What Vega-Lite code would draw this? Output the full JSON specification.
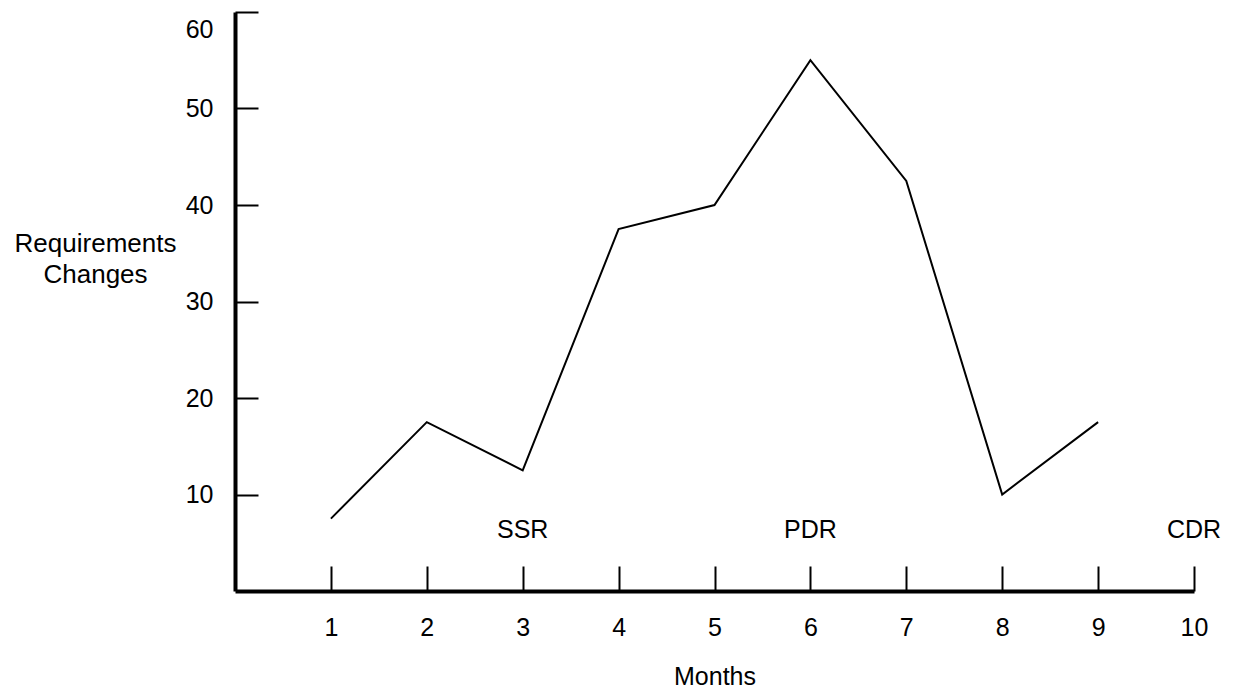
{
  "$schema": "https://vega.github.io/schema/vega-lite/v6.json",
  "width": 959,
  "height": 579,
  "autosize": {"type": "none"},
  "padding": {"left": 235, "top": 12, "right": 41, "bottom": 97},
  "background": "white",
  "config": {"view": {"stroke": null}, "font": "Liberation Sans"},
  "layer": [
    {
      "data": {"values": [
        {"month": 1, "changes": 7.5},
        {"month": 2, "changes": 17.5},
        {"month": 3, "changes": 12.5},
        {"month": 4, "changes": 37.5},
        {"month": 5, "changes": 40},
        {"month": 6, "changes": 55},
        {"month": 7, "changes": 42.5},
        {"month": 8, "changes": 10},
        {"month": 9, "changes": 17.5}
      ]},
      "mark": {"type": "line", "color": "black", "strokeWidth": 2},
      "encoding": {
        "x": {
          "field": "month", "type": "quantitative",
          "scale": {"domain": [0, 10], "nice": false, "zero": false},
          "axis": {
            "values": [1, 2, 3, 4, 5, 6, 7, 8, 9, 10],
            "format": "d",
            "grid": false,
            "labelFlush": false,
            "domainColor": "black", "domainWidth": 4,
            "tickColor": "black", "tickWidth": 2, "tickSize": -25,
            "labelColor": "black", "labelFontSize": 25, "labelPadding": 49,
            "title": "Months", "titleFontSize": 25, "titleFontWeight": "normal",
            "titleColor": "black", "titlePadding": 24
          }
        },
        "y": {
          "field": "changes", "type": "quantitative",
          "scale": {"domain": [0, 60], "nice": false},
          "axis": {
            "values": [10, 20, 30, 40, 50, 60],
            "format": "d",
            "grid": false,
            "domainColor": "black", "domainWidth": 4,
            "tickColor": "black", "tickWidth": 2, "tickSize": -23,
            "labelColor": "black", "labelFontSize": 25, "labelPadding": 45,
            "labelFlush": true, "labelFlushOffset": -5,
            "title": ["Requirements", "Changes"],
            "titleFontSize": 26, "titleFontWeight": "normal", "titleColor": "black",
            "titleAngle": 0, "titleAlign": "center", "titleBaseline": "middle",
            "titleX": -140, "titleY": 231, "titleLineHeight": 31
          }
        }
      }
    },
    {
      "data": {"values": [
        {"month": 3, "pos": 6.3, "label": "SSR"},
        {"month": 6, "pos": 6.3, "label": "PDR"},
        {"month": 10, "pos": 6.3, "label": "CDR"}
      ]},
      "mark": {"type": "text", "fontSize": 25, "color": "black", "baseline": "middle", "align": "center"},
      "encoding": {
        "x": {"field": "month", "type": "quantitative"},
        "y": {"field": "pos", "type": "quantitative"},
        "text": {"field": "label"}
      }
    }
  ]
}
